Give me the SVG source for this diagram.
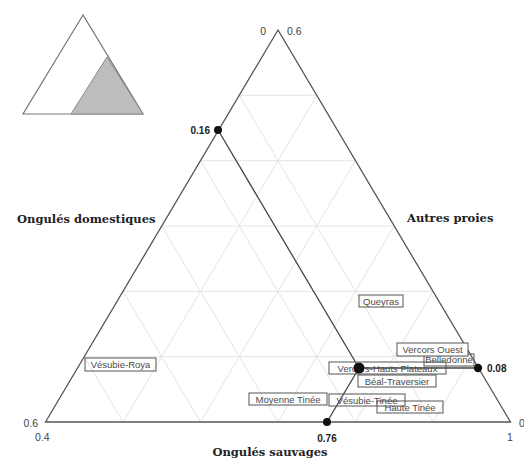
<svg xmlns="http://www.w3.org/2000/svg" width="524" height="462" viewBox="0 0 524 462">
<style>
.grid{stroke:#e4e4e4;stroke-width:1;fill:none}
.frame{stroke:#555;stroke-width:1.3;fill:none}
.conn{stroke:#444;stroke-width:1.3;fill:none}
.axis{font-family:"DejaVu Serif",serif;font-weight:bold;font-size:11.5px;fill:#222}
.tick{font-family:"Liberation Sans",Arial,sans-serif;font-size:10.5px;fill:#444}
.val{font-family:"Liberation Sans",Arial,sans-serif;font-size:10px;font-weight:bold;fill:#222}
.lab rect{fill:none;stroke:#555;stroke-width:1}
.lab text{font-family:"Liberation Sans",Arial,sans-serif;font-size:9.5px;fill:#4a4a4a}
.dot{fill:#111}
</style>
<rect width="524" height="462" fill="#fff"/>
<g id="inset">
<polygon points="83,15 23,114 143,114" fill="#fff" stroke="#777" stroke-width="1.2"/>
<polygon points="107,57 71,114 143,114" fill="#bdbdbd" stroke="#888" stroke-width="1"/>
</g>
<g id="grid" class="grid">
<line x1="239.2" y1="95.3" x2="316.7" y2="95.3"/>
<line x1="200.3" y1="160.7" x2="355.3" y2="160.7"/>
<line x1="161.5" y1="226" x2="394" y2="226"/>
<line x1="122.7" y1="291.3" x2="432.7" y2="291.3"/>
<line x1="83.8" y1="356.7" x2="471.3" y2="356.7"/>
<line x1="316.75" y1="95.33" x2="123" y2="422"/>
<line x1="355.5" y1="160.67" x2="200.5" y2="422"/>
<line x1="394.25" y1="226" x2="278" y2="422"/>
<line x1="433" y1="291.33" x2="355.5" y2="422"/>
<line x1="471.75" y1="356.67" x2="433" y2="422"/>
<line x1="239.25" y1="95.33" x2="433" y2="422"/>
<line x1="200.5" y1="160.67" x2="355.5" y2="422"/>
<line x1="161.75" y1="226" x2="278" y2="422"/>
<line x1="123" y1="291.33" x2="200.5" y2="422"/>
<line x1="84.25" y1="356.67" x2="123" y2="422"/>
</g>
<g id="frame">
<polygon class="frame" points="278,30 45.5,422 510.5,422"/>
</g>
<g id="connectors">
<line class="conn" x1="218" y1="130" x2="359" y2="368"/>
<line class="conn" x1="359" y1="368" x2="478" y2="368"/>
<line class="conn" x1="327" y1="422" x2="359" y2="368"/>
</g>
<g id="ticks">
<text class="tick" x="266" y="35" text-anchor="end">0</text>
<text class="tick" x="287" y="35">0.6</text>
<text class="tick" x="38" y="427" text-anchor="end">0.6</text>
<text class="tick" x="35" y="441">0.4</text>
<text class="tick" x="510" y="441" text-anchor="middle">1</text>
<text class="tick" x="519" y="427">0</text>
</g>
<g id="axes">
<text class="axis" x="17" y="223">Ongulés domestiques</text>
<text class="axis" x="407" y="222">Autres proies</text>
<text class="axis" x="270" y="456" text-anchor="middle">Ongulés sauvages</text>
</g>
<g id="p016"><circle class="dot" cx="218" cy="130" r="4"/><text class="val" x="210" y="134" text-anchor="end">0.16</text></g>
<g id="p008"><circle class="dot" cx="478" cy="368" r="4.2"/><text class="val" x="487" y="372">0.08</text></g>
<g id="p076"><circle class="dot" cx="327" cy="422" r="4"/><text class="val" x="327" y="442" text-anchor="middle">0.76</text></g>
<g id="queyras" class="lab"><rect x="359" y="295" width="44" height="12"/><text x="381" y="304.5" text-anchor="middle">Queyras</text></g>
<g id="belledonne" class="lab"><rect x="424" y="354" width="50" height="12"/><text x="449" y="362.5" text-anchor="middle">Belledonne</text></g>
<g id="vercors-ouest" class="lab"><rect x="397" y="343" width="71" height="13" style="fill:#fff"/><text x="432.5" y="353" text-anchor="middle">Vercors Ouest</text></g>
<g id="vercors-hp" class="lab"><rect x="329" y="362" width="117" height="12"/><text x="387.5" y="371.5" text-anchor="middle">Vercors-Hauts Plateaux</text></g>
<g id="p-vhp"><circle class="dot" cx="359" cy="368" r="5.5"/></g>
<g id="beal" class="lab"><rect x="358" y="375" width="78" height="12"/><text x="397" y="384.5" text-anchor="middle">Béal-Traversier</text></g>
<g id="moyenne" class="lab"><rect x="249" y="393" width="78" height="12"/><text x="288" y="402.5" text-anchor="middle">Moyenne Tinée</text></g>
<g id="haute" class="lab"><rect x="377" y="401" width="66" height="12"/><text x="410" y="410.5" text-anchor="middle">Haute Tinée</text></g>
<g id="vesubie-tinee" class="lab"><rect x="329" y="394" width="76" height="12"/><text x="367" y="403.5" text-anchor="middle">Vésubie-Tinée</text></g>
<g id="vesubie-roya" class="lab"><rect x="85" y="358" width="71" height="13"/><text x="120.5" y="368" text-anchor="middle">Vésubie-Roya</text></g>
</svg>
